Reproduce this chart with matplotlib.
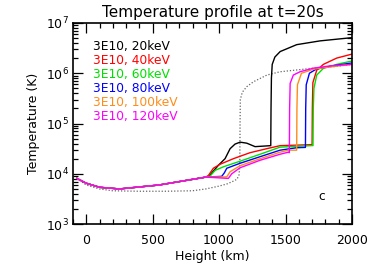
import matplotlib
matplotlib.use('Agg')
import matplotlib.pyplot as plt
from matplotlib.ticker import LogLocator, MultipleLocator, NullFormatter

plt.rcParams['font.family'] = ['DejaVu Sans']

# height (km) and temperature (K)
x_20 = [-70, 0, 100, 250, 550, 900, 920, 995, 1045, 1083, 1120, 1158, 1208, 1271, 1389,
        1391, 1394, 1400, 1420, 1460, 1584, 1760, 2000]
t_20 = [8100, 6500, 5400, 5000, 6000, 8600, 8700, 14800, 20000, 31600, 39000, 42600, 40700,
        34700, 36300, 2.0e5, 8.0e5, 1.5e6, 2.1e6, 2.7e6, 3.7e6, 4.4e6, 5.1e6]

x_40 = [-70, 0, 100, 250, 550, 900, 920, 957, 1008, 1108, 1233, 1359, 1459, 1700,
        1702, 1706, 1735, 1785, 1885, 2000]
t_40 = [8100, 6500, 5400, 5000, 6000, 8600, 9300, 12900, 15500, 20000, 26300, 31600, 36300,
        38000, 2.0e5, 6.5e5, 1.15e6, 1.5e6, 2.0e6, 2.4e6]

x_60 = [-70, 0, 100, 250, 550, 900, 932, 970, 1033, 1158, 1309, 1459, 1707,
        1709, 1714, 1735, 1785, 1885, 2000]
t_60 = [8100, 6500, 5400, 5000, 6000, 8600, 9000, 11700, 13800, 17800, 24500, 33900, 36500,
        2.0e5, 5.0e5, 9.2e5, 1.25e6, 1.5e6, 1.75e6]

x_80 = [-70, 0, 100, 250, 550, 900, 1020, 1040, 1058, 1158, 1309, 1459, 1584, 1650,
        1652, 1656, 1680, 1730, 1850, 2000]
t_80 = [8100, 6500, 5400, 5000, 6000, 8600, 8900, 10500, 12900, 16200, 21900, 29500, 33000,
        33500, 2.0e5, 5.9e5, 1.0e6, 1.2e6, 1.4e6, 1.6e6]

x_100 = [-70, 0, 100, 250, 550, 900, 1058, 1083, 1158, 1309, 1459, 1521, 1584,
         1586, 1590, 1620, 1709, 1850, 2000]
t_100 = [8100, 6500, 5400, 5000, 6000, 8600, 8700, 11000, 14500, 20000, 26900, 29500, 29500,
         2.0e5, 5.9e5, 1.0e6, 1.2e6, 1.35e6, 1.5e6]

x_120 = [-70, 0, 100, 250, 550, 900, 1070, 1095, 1158, 1309, 1459, 1521, 1529,
         1531, 1535, 1559, 1609, 1709, 1835, 2000]
t_120 = [8100, 6500, 5400, 5000, 6000, 8600, 8100, 10000, 13200, 18600, 24500, 26900, 26300,
         2.0e5, 6.3e5, 9.2e5, 1.07e6, 1.26e6, 1.4e6, 1.5e6]

x_init = [-70, 0, 100, 200, 400, 600, 800, 900, 1000, 1060, 1100, 1135, 1150, 1156,
          1158, 1160, 1175, 1208, 1260, 1360, 1459, 1709, 1860, 2000]
t_init = [8100, 6000, 5000, 4600, 4500, 4500, 4600, 5000, 5700, 6300, 7000, 7800, 9500, 15000,
          1.0e5, 3.0e5, 4.2e5, 5.4e5, 6.8e5, 9.2e5, 1.07e6, 1.26e6, 1.35e6, 1.5e6]

labels = ['3E10, 20keV', '3E10, 40keV', '3E10, 60keV', '3E10, 80keV', '3E10, 100keV', '3E10, 120keV']
colors = ['black', '#ff0000', '#00e000', '#0000ff', '#ff8c1a', '#ff00ff']
xs = [x_20, x_40, x_60, x_80, x_100, x_120]
ts = [t_20, t_40, t_60, t_80, t_100, t_120]

fig = plt.figure(figsize=(3.74, 2.70), dpi=100)
ax = fig.add_axes([0.195, 0.170, 0.746, 0.745])

ax.plot(x_init, t_init, color='#666666', ls=(0, (1, 1.5)), lw=0.9)
for x, t, c in zip(xs, ts, colors):
    ax.plot(x, t, color=c, lw=1.0)

ax.set_yscale('log')
ax.set_xlim(-100, 2000)
ax.set_ylim(1e3, 1e7)

ax.xaxis.set_major_locator(MultipleLocator(500))
ax.xaxis.set_minor_locator(MultipleLocator(100))
ax.yaxis.set_major_locator(LogLocator(base=10))
ax.yaxis.set_minor_locator(LogLocator(base=10, subs=range(2, 10)))
ax.yaxis.set_minor_formatter(NullFormatter())
ax.tick_params(which='both', direction='in', top=True, right=True, labelsize=9, width=0.9)
ax.tick_params(which='major', length=7)
ax.tick_params(which='minor', length=3.5)
ax.tick_params(axis='x', pad=7)
ax.tick_params(axis='y', pad=3)
for s in ax.spines.values():
    s.set_linewidth(1.2)

for i, (lab, c) in enumerate(zip(labels, colors)):
    ax.text(0.072, 0.882 - i * 0.0697, lab, color=c, fontsize=8.8,
            transform=ax.transAxes, va='center', ha='left')

ax.text(1773, 3500, 'c', fontsize=8.8, ha='center', va='center')

ax.set_title('Temperature profile at t=20s', fontsize=11, pad=4)
ax.set_xlabel('Height (km)', fontsize=9, labelpad=2)
ax.set_ylabel('Temperature (K)', fontsize=9, labelpad=4)

fig.savefig('out.png', dpi=100)
